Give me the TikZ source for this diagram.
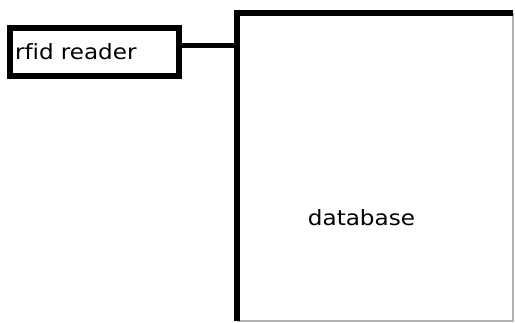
\documentclass[tikz,border=0pt]{standalone}
\usepackage{fontspec}
\setmainfont{DejaVu Sans}[FakeStretch=1.1, Ligatures=NoCommon]

\begin{document}
\begin{tikzpicture}[x=1pt, y=-1pt,
  box/.style={draw, line width=6pt, minimum width=169pt, minimum height=48pt},
  lab/.style={font=\fontsize{21}{25}\selectfont, inner sep=0pt},
  link/.style={line width=5pt}
]
\useasboundingbox (0,0) rectangle (515,322);
\node[box, lab, inner xsep=5pt, text width=159pt, align=left] (rfid) at (94.6,52) {rfid reader};
\node[minimum width=276pt, minimum height=308pt, inner sep=0pt] (db) at (375,167) {};
\draw[gray!60, line width=1.5pt] (db.south west) -- (db.south east) -- (db.north east);
\draw[line width=6pt] (db.south west) -- (db.north west) -- (db.north east);
\node[lab] (dbtext) at (361.5,218) {database};
\draw[link] ([yshift=6.3pt]rfid.east) -- ([yshift=6.3pt]rfid.east -| db.west);
\end{tikzpicture}
\end{document}
